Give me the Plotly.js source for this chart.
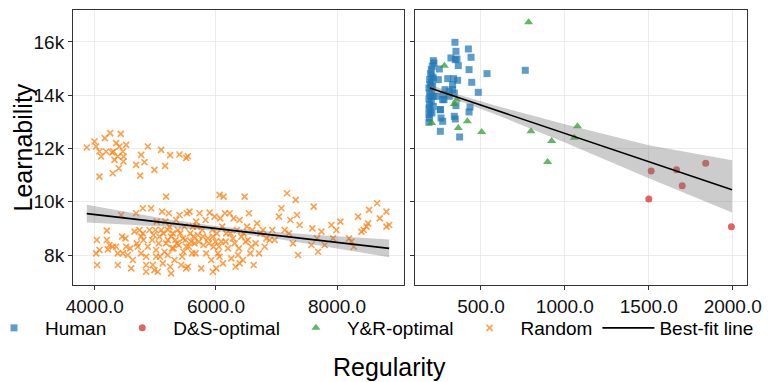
<!DOCTYPE html>
<html>
<head>
<meta charset="utf-8">
<script src="https://cdn.plot.ly/plotly-3.0.1.min.js"></script>
<style>html,body{margin:0;padding:0;background:#fff;}#chart{width:781px;height:382px;}</style>
</head>
<body>
<div id="chart"></div>
<script>
// ---------- Data ----------
// Random sequences (left panel)
const randomX = [
 3868,3995,4022,4077,4165,4077,4104,4187,4253,4286,4297,4325,4352,4380,4407,4429,4462,4473,4517,4396,4473,4682,4765,4749,4820,4875,4985,5095,5161,5244,5398,5509,5536,4308,
 4033,4022,4038,4077,4198,4198,4215,4242,4297,4352,4380,4435,4451,4462,4506,4517,4545,4584,4628,4682,
 4655,4694,4738,4765,4765,4793,4804,4848,4848,4875,4903,4930,4958,4969,4985,5012,5023,5040,5056,5078,5095,5111,5122,5133,5150,5166,5178,
 5205,5221,5233,5244,5260,5277,5288,5315,5343,5354,5370,5398,5425,5442,5453,5481,5509,5520,5536,5564,5575,5608,5619,5647,5674,5702,5729,5757,
 5773,5795,5828,5839,5867,5895,5922,5939,5961,5977,6005,6016,6033,6060,6071,6088,6116,6127,6149,6171,6198,6226,6253,6281,
 6292,6325,6347,6364,6391,6419,6446,6474,6490,6512,6545,6567,6600,6623,6656,6678,6711,6733,6777,6805,6832,
 6887,6931,6970,7041,7080,7135,7173,7206,7228,7272,7316,7338,7355,7383,
 7575,7592,7614,7669,7686,7741,7796,7906,7934,7989,8055,8198,8236,8275,8347,8402,8441,8485,8512,8529,8661,8705,8815,8815,8860,
 4710,4793,4947,5001,5067,5178,5205,5260,5299,5332,5387,5409,5464,5497,5553,5591,5630,5663,5685,5718,5784,5884,5950,5994,6049,6104,6160,6237,6308,6380,6457,6529,6584,5950,5509,4848,6060,6391,5205,5012,4380,4600
];
const randomY = [
 12037,12263,12075,11887,12388,10946,11699,11887,12576,11850,11072,11573,12200,11699,12075,12550,11887,11510,12137,11260,11699,11385,11761,10984,11485,12075,11197,11950,11347,11749,11774,11648,11711,11887,
 8564,8062,7625,8189,8915,8564,8213,8376,8313,8313,8062,9504,8689,8062,8627,8313,8000,8250,7812,9567,
 8877,8439,8940,8689,8062,9755,8564,7937,7625,8313,8940,9755,7625,8752,7435,8189,9253,7373,8439,7937,8940,9630,7688,8815,8125,9253,10194,
 8564,9567,9065,7562,7311,8250,8815,7812,9316,8439,8940,9504,7625,7937,8627,9065,8313,9567,7562,9630,8815,8062,9065,8439,9253,8752,9567,7499,
 8940,8376,9316,8062,8627,9592,7812,8940,8313,9441,7499,8815,8062,10257,9378,8501,7688,10194,9567,8815,8250,9567,7875,8627,
 9378,7562,8940,8000,9316,8689,7812,10194,8501,9065,9567,8062,8940,7625,8439,9191,8062,8815,8940,8313,8627,
 8564,8940,8564,9441,9755,8940,10320,8815,9316,8439,10069,9504,8000,9128,
 8376,9003,9818,8627,8125,8877,8376,9128,8627,8940,9253,8627,8501,8313,9441,8877,8940,9065,9191,9693,9943,9378,9630,9065,9128,
 8313,8815,8564,8940,8689,8439,8940,8689,8250,8564,8376,8815,8125,8564,8313,8501,8689,8062,9065,8501,8689,8439,8689,8501,8313,9065,8501,8815,8439,8250,8815,8564,8313,7373,7499,7373,7937,7688,8000,7937,7625,7499
];

// Human languages (right panel)
const humanX = [216,220,210,204,200,208,194,204,198,190,206,194,200,190,204,194,190,198,190,194,190,216,212,216,216,208,
 252,246,258,262,272,258,276,272,286,302,311,321,331,337,331,341,345,351,347,357,365,361,341,347,351,373,425,441,429,445,435,429,484,536,764,280,311,236,258];
const humanY = [15299,15211,15086,14961,14811,14711,14585,14485,14397,14272,14210,14084,13959,13859,13771,13646,13521,13396,13271,13146,12983,14648,14335,13959,13584,13333,
 14986,14585,13458,13146,13021,12645,14022,13834,14210,14623,14147,15399,14210,14623,14397,14084,15987,15649,15336,15361,15111,14560,13208,13108,13609,12432,15737,15424,14961,14485,13559,13371,14109,14811,14936,13834,13959,13959,13458];

// D&S-optimal
const dsX = [1514,1665,1699,1839,1500,1992];
const dsY = [11155,11205,10604,11443,10103,9064];

// Y&R-optimal
const yrX = [282,206,355,341,365,419,504,784,798,921,897,1056,1075];
const yrY = [15111,12958,13834,13671,12770,13020,12620,16739,12645,12282,11493,12407,12833];

// Best-fit lines and confidence bands
const fitLeftX = [3868, 8860];
const fitLeftY = [9554, 8250];
const bandLeftX = [3868, 4500, 5200, 6000, 6800, 7600, 8300, 8860];
const bandLeftLo = [9224, 9159, 9066, 8907, 8678, 8399, 8136, 7920];
const bandLeftHi = [9884, 9619, 9346, 9087, 8898, 8759, 8656, 8580];

const fitRightX = [196, 1996];
const fitRightY = [14272, 10454];
const bandRightX = [196, 350, 600, 1000, 1500, 1996];
const bandRightLo = [14142, 13835, 13245, 12227, 10886, 9600];
const bandRightHi = [14402, 14055, 13585, 12907, 12126, 11560];

const yTicks = [8000, 10000, 12000, 14000, 16000];

// ---------- Build traces ----------
function bandTrace(xs, lo, hi, xa, ya) {
  return {
    x: xs.concat(xs.slice().reverse()),
    y: hi.concat(lo.slice().reverse()),
    xaxis: xa, yaxis: ya, type: 'scatter', mode: 'lines',
    fill: 'toself', fillcolor: 'rgba(120,120,120,0.38)',
    line: {width: 0}, showlegend: false, hoverinfo: 'skip'
  };
}

const traces = [
  {x: humanX, y: humanY, xaxis: 'x2', yaxis: 'y2', type: 'scatter', mode: 'markers', name: 'Human', legendrank: 1,
   marker: {symbol: 'square', size: 7, color: 'rgba(31,119,180,0.72)'}},
  {x: dsX, y: dsY, xaxis: 'x2', yaxis: 'y2', type: 'scatter', mode: 'markers', name: 'D&S-optimal', legendrank: 2,
   marker: {symbol: 'circle', size: 7, color: 'rgba(214,39,40,0.72)'}},
  {x: yrX, y: yrY, xaxis: 'x2', yaxis: 'y2', type: 'scatter', mode: 'markers', name: 'Y&R-optimal', legendrank: 3,
   marker: {symbol: 'triangle-up', size: 8, color: 'rgba(44,160,44,0.75)'}},
  {x: randomX, y: randomY, xaxis: 'x', yaxis: 'y', type: 'scatter', mode: 'markers', name: 'Random', legendrank: 4,
   marker: {symbol: 'x-thin', size: 6, color: 'rgba(255,127,14,0.75)', line: {width: 1.6, color: 'rgba(255,127,14,0.75)'}}},
  bandTrace(bandLeftX, bandLeftLo, bandLeftHi, 'x', 'y'),
  bandTrace(bandRightX, bandRightLo, bandRightHi, 'x2', 'y2'),
  {x: fitLeftX, y: fitLeftY, xaxis: 'x', yaxis: 'y', type: 'scatter', mode: 'lines', name: 'Best-fit line', legendrank: 5,
   line: {color: '#000', width: 1.6}},
  {x: fitRightX, y: fitRightY, xaxis: 'x2', yaxis: 'y2', type: 'scatter', mode: 'lines', name: 'Best-fit line', showlegend: false,
   line: {color: '#000', width: 1.6}}
];

// ---------- Layout (pixel geometry converted to paper coordinates) ----------
const W = 781, H = 382;
const ML = 73, MR = 0, MT = 10, MB = 97;
const PW = W - ML - MR, PH = H - MT - MB;
const px = v => (v - ML) / PW;          // page x pixel -> paper x
const py = v => (H - MB - v) / PH;      // page y pixel -> paper y

const font = {family: 'Liberation Sans, Arial, Helvetica, sans-serif', color: '#000'};
const axisCommon = {
  showline: true, mirror: true, linecolor: '#333', linewidth: 1,
  showgrid: true, gridcolor: '#ebebeb', gridwidth: 1, zeroline: false,
  ticks: 'outside', ticklen: 4, tickcolor: '#333', tickwidth: 1,
  tickfont: {size: 19, color: '#111'}
};

const layout = {
  width: W, height: H,
  margin: {l: ML, r: MR, t: MT, b: MB, autoexpand: false},
  paper_bgcolor: '#fff', plot_bgcolor: '#fff',
  font: font,
  showlegend: true,
  legend: {orientation: 'h', x: px(-17), xanchor: 'left', y: py(328), yanchor: 'middle',
           font: {size: 19}, itemwidth: 52, itemsizing: 'trace', traceorder: 'normal', bgcolor: 'rgba(0,0,0,0)'},
  xaxis: Object.assign({}, axisCommon, {domain: [px(73), px(404)], range: [3640, 9105], tick0: 4000, dtick: 2000, tickformat: '.1f', anchor: 'y'}),
  xaxis2: Object.assign({}, axisCommon, {domain: [px(415), px(747)], range: [107, 2085], tick0: 500, dtick: 500, tickformat: '.1f', anchor: 'y2'}),
  yaxis: Object.assign({}, axisCommon, {domain: [0, 1], range: [6875, 17200], tickvals: yTicks, tickformat: '~s', anchor: 'x'}),
  yaxis2: Object.assign({}, axisCommon, {domain: [0, 1], range: [6875, 17200], tickvals: yTicks, showticklabels: false, anchor: 'x2', matches: 'y'}),
  annotations: [
    {text: 'Learnability', xref: 'paper', yref: 'paper', x: px(22), y: py(147.5), xanchor: 'center', yanchor: 'middle',
     textangle: -90, showarrow: false, font: {size: 25, color: '#000'}},
    {text: 'Regularity', xref: 'paper', yref: 'paper', x: px(389), y: py(367), xanchor: 'center', yanchor: 'middle',
     showarrow: false, font: {size: 25, color: '#000'}}
  ]
};

Plotly.newPlot('chart', traces, layout, {staticPlot: true, displayModeBar: false});
</script>
</body>
</html>
